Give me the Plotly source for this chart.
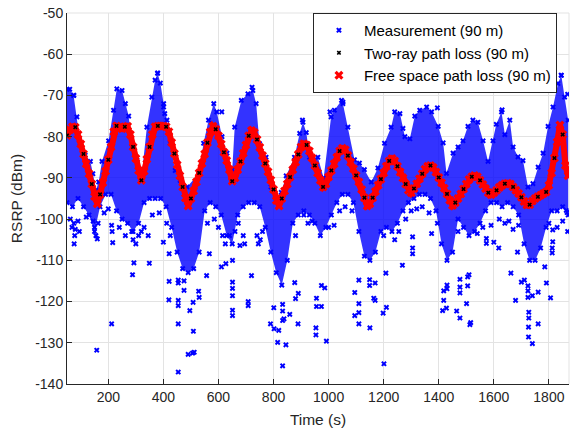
import plotly.graph_objects as go

# free space / two-ray path loss curve (dBm) sampled every 10 s
fsl_t = list(range(50, 1871, 10))
fsl_v = [-79.7, -78.3, -77.6, -77.7, -79.5, -81.8, -84.2, -86.6, -89.0, -91.5,
         -94.5, -96.3, -94.0, -91.2, -88.4, -85.6, -82.5, -78.8, -77.4, -77.7,
         -78.1, -77.6, -77.5, -79.5, -82.5, -85.3, -88.2, -90.6, -88.4, -85.5,
         -82.5, -79.5, -77.6, -77.4, -77.4, -77.4, -77.6, -78.8, -81.4, -84.1,
         -86.8, -89.5, -92.2, -94.9, -96.8, -95.0, -93.2, -91.0, -88.8, -86.5,
         -84.2, -81.5, -78.9, -77.5, -78.2, -79.8, -81.8, -83.8, -85.8, -88.0,
         -90.8, -90.0, -88.0, -86.0, -84.0, -82.0, -79.8, -78.5, -79.0, -80.7,
         -82.6, -84.6, -86.5, -88.5, -90.5, -92.8, -95.5, -96.8, -95.0, -93.2,
         -91.5, -89.8, -88.0, -86.2, -84.3, -82.5, -81.7, -82.0, -83.5, -85.2,
         -87.0, -88.8, -90.6, -92.2, -91.5, -89.8, -88.2, -86.6, -85.0, -83.5,
         -82.8, -83.2, -84.6, -86.2, -87.8, -89.4, -91.0, -92.8, -94.8, -96.8,
         -96.3, -94.8, -93.3, -91.8, -90.3, -88.8, -87.2, -85.9, -85.3, -85.9,
         -87.2, -88.6, -90.0, -91.5, -93.0, -93.6, -92.6, -91.4, -90.2, -89.0,
         -87.9, -87.2, -87.0, -87.5, -88.6, -89.9, -91.2, -92.5, -93.9, -95.4,
         -96.7, -96.0, -95.0, -93.9, -92.7, -91.5, -90.4, -89.7, -89.4, -89.7,
         -90.6, -91.6, -92.6, -93.6, -94.1, -93.6, -93.0, -92.3, -91.8, -91.4,
         -91.3, -91.5, -92.2, -93.0, -93.8, -94.7, -95.7, -96.6, -96.5, -95.6,
         -95.0, -94.6, -94.2, -93.8, -93.4, -91.8, -88.8, -85.2, -81.3, -77.2,
         -79.5, -87.0, -89.5]

# upper edge of the dense measurement cloud
up_t = [50, 60, 74, 86, 98, 116, 135, 144, 155, 165, 177, 201, 219, 231, 250, 262,
        274, 286, 304, 322, 340, 358, 370, 379, 389, 401, 413, 425, 443, 461, 486,
        528, 546, 564, 583, 594, 613, 631, 650, 659, 683, 707, 725, 737, 749, 761,
        773, 791, 810, 828, 846, 876, 895, 907, 919, 931, 961, 982, 1009, 1021,
        1047, 1052, 1070, 1094, 1112, 1130, 1155, 1179, 1203, 1227, 1240, 1259,
        1277, 1295, 1313, 1331, 1356, 1374, 1398, 1416, 1428, 1452, 1470, 1488,
        1506, 1524, 1542, 1561, 1579, 1597, 1609, 1628, 1640, 1658, 1670, 1688,
        1706, 1724, 1742, 1761, 1779, 1797, 1815, 1833, 1845, 1857, 1870]
up_v = [-68.5, -68.5, -70.0, -75.2, -81.6, -84.5, -86.0, -89.0, -93.0, -91.0,
        -86.0, -81.0, -73.6, -68.4, -68.8, -72.0, -75.0, -82.5, -85.7, -89.0,
        -77.7, -70.4, -66.3, -64.6, -67.0, -72.0, -76.0, -81.6, -88.2, -90.6,
        -92.2, -89.0, -81.6, -76.0, -72.0, -74.0, -80.0, -84.0, -88.0, -77.7,
        -71.2, -69.6, -68.8, -72.0, -81.7, -85.0, -85.0, -92.2, -95.0, -93.5,
        -89.5, -85.0, -79.2, -76.5, -79.0, -85.0, -85.0, -90.0, -75.2, -73.6,
        -71.2, -72.0, -77.7, -85.6, -86.4, -88.0, -91.0, -87.6, -81.6, -77.7,
        -74.0, -74.4, -80.0, -80.5, -75.0, -73.6, -72.8, -74.0, -77.5, -81.5,
        -88.9, -84.0, -82.5, -81.0, -77.5, -76.0, -76.5, -81.0, -86.0, -81.0,
        -77.0, -74.0, -79.5, -76.0, -82.5, -84.9, -85.8, -92.2, -91.4, -87.4,
        -84.0, -77.5, -72.8, -67.1, -65.1, -70.4, -76.0]

# lower edge of the dense measurement cloud (every 20 s)
lo_t = list(range(50, 1871, 20))
lo_v = [-96, -97, -95, -97, -99, -103, -97, -94, -94, -98, -100, -101, -103, -101,
        -96, -95, -95, -95, -97, -102, -108, -112, -113, -112, -108, -98, -96, -97,
        -99, -104, -106, -99, -97, -96, -96, -97, -102, -108, -113, -116, -110,
        -101, -99, -98, -99, -101, -104, -102, -99, -96, -94, -94, -96, -103, -109,
        -110, -108, -103, -102, -103, -101, -98, -96, -95, -94, -94, -95, -98,
        -106, -110, -108, -100, -102, -104, -103, -101, -98, -96, -96, -97, -96,
        -97, -99, -106, -110, -110, -107, -102, -98, -98, -97, -99]

# scattered measurement samples outside the dense cloud
pts_t = [158, 212, 216, 288, 293, 349, 400, 421, 421, 420, 454, 454, 454, 454, 454,
         454, 475, 475, 490, 506, 512, 509, 496, 508, 530, 528, 557, 567, 611, 627,
         651, 651, 651, 651, 651, 651, 678, 708, 708, 720, 789, 801, 802, 815, 819,
         833, 845, 833, 833, 833, 838, 859, 889, 880, 890, 877, 954, 954, 956, 956,
         974, 974, 986, 992, 1095, 1110, 1110, 1110, 1095, 1110, 1150, 1164, 1169,
         1169, 1149, 1149, 1198, 1201, 1210, 1208, 1268, 1305, 1305, 1305, 1374,
         1414, 1428, 1418, 1418, 1430, 1430, 1465, 1477, 1477, 1477, 1477, 1501,
         1513, 1516, 1505, 1505, 1510, 1573, 1573, 1600, 1618, 1662, 1679, 1686,
         1700, 1711, 1724, 1724, 1724, 1727, 1727, 1726, 1726, 1740, 1740, 1761,
         1761, 1785, 1791, 1806, 1812, 1812, 1814, 1814, 1863, 1866, 1868,
         62, 68, 75, 78, 76, 80, 90, 95, 120, 145, 150, 155, 160, 163, 185, 200, 212,
         214, 240, 262, 285, 290, 300, 310, 320, 330, 345, 360, 385, 412, 425, 560,
         585, 600, 615, 625, 640, 660, 672, 690, 695, 740, 745, 752, 760, 880, 910,
         925, 940, 1000, 1020, 1040, 1060, 1085, 1200, 1240, 1255, 1280, 1300, 1320,
         1340, 1365, 1395, 1470, 1540, 1560, 1590, 1620, 1640, 1655, 1670, 1690,
         1800, 1830, 1850,
         75, 379, 401, 405, 1052, 1845, 1868, 612, 722, 1270, 1395, 1630, 1005, 905]
pts_v = [-131.8, -125.4, -105.7, -113.5, -110.6, -110.7, -105.6, -108.4, -115.1,
         -119.6, -125.4, -137.1, -121.0, -119.7, -115.5, -114.8, -115.0, -117.3,
         -132.8, -132.5, -132.3, -127.2, -122.2, -120.2, -119.0, -117.5, -113.7,
         -108.4, -111.6, -110.8, -110.0, -115.3, -116.8, -118.6, -122.1, -123.4,
         -106.4, -120.0, -121.0, -113.7, -125.4, -121.5, -126.6, -129.9, -127.0,
         -135.6, -130.5, -124.6, -122.3, -120.7, -124.2, -123.1, -125.4, -119.3,
         -118.0, -115.4, -126.4, -128.1, -121.2, -119.2, -121.2, -116.1, -116.7,
         -129.6, -123.4, -125.4, -122.7, -120.5, -117.8, -114.8, -126.4, -119.2,
         -119.7, -115.5, -116.1, -114.7, -122.8, -135.1, -121.4, -113.1, -111.2,
         -108.4, -107.0, -104.3, -103.5, -122.2, -121.6, -119.7, -117.4, -116.0,
         -116.9, -122.3, -124.0, -117.9, -116.5, -114.6, -120.5, -125.6, -125.1,
         -116.2, -114.0, -113.5, -104.7, -105.9, -105.6, -107.0, -113.1, -119.7,
         -108.0, -115.3, -114.8, -116.2, -117.4, -119.0, -122.6, -124.0, -126.2,
         -128.6, -130.2, -118.6, -125.4, -117.7, -111.6, -115.5, -119.1, -107.0,
         -108.2, -102.6, -105.5, -97.9, -98.4, -103.0,
         -100.0, -102.0, -101.0, -104.0, -106.0, -102.5, -100.5, -103.0, -99.5,
         -100.5, -102.0, -104.0, -104.8, -101.0, -98.5, -97.5, -101.5, -103.0,
         -102.0, -104.0, -103.0, -105.0, -106.0, -104.0, -103.0, -102.0, -104.0,
         -99.0, -98.5, -101.0, -104.0, -101.0, -100.0, -102.0, -104.0, -106.0,
         -104.0, -103.0, -101.0, -104.0, -106.0, -104.0, -106.0, -105.0, -103.0,
         -104.0, -99.0, -101.0, -100.5, -102.0, -101.5, -98.0, -97.0, -98.0,
         -104.0, -105.0, -103.0, -100.0, -98.0, -97.5, -97.0, -98.5, -101.0,
         -103.0, -103.5, -102.0, -101.5, -100.0, -101.0, -100.5, -102.5, -101.5,
         -101.0, -102.0, -100.5,
         -70.0, -64.6, -72.8, -74.4, -71.6, -65.1, -69.7, -74.0, -68.0, -78.0,
         -73.0, -73.5, -74.0, -76.0]

x_ticks = [200, 400, 600, 800, 1000, 1200, 1400, 1600, 1800]
y_ticks = [-140, -130, -120, -110, -100, -90, -80, -70, -60, -50]
y_labels = ["-140", "-130", "-120", "-110", "-100", "-90", "-80", "-70", "-60", "-50"]

blue = "#0000FF"
txt = "#262626"
grid = "#E3E3E3"

# closed outline of the dense cloud: upper edge left->right, lower edge right->left
cloud_t = up_t + lo_t[::-1]
cloud_v = up_v + lo_v[::-1]

fig = go.Figure()

fig.add_trace(go.Scatter(x=cloud_t, y=cloud_v, fill="toself", fillcolor="rgba(0,0,255,0.8)",
                         mode="lines", line=dict(width=0), showlegend=False, hoverinfo="skip"))
fig.add_trace(go.Scatter(x=cloud_t, y=cloud_v, mode="markers",
                         marker=dict(symbol="x", size=5, color=blue),
                         showlegend=False, hoverinfo="skip"))
fig.add_trace(go.Scatter(x=pts_t, y=pts_v, mode="markers", name="Measurement (90 m)",
                         marker=dict(symbol="x", size=5, color=blue), legendrank=1))

# red curve: a thick band under the x markers, as in the original
fig.add_trace(go.Scatter(x=fsl_t, y=fsl_v, mode="lines", line=dict(color="#FF0000", width=6),
                         showlegend=False, hoverinfo="skip"))
fig.add_trace(go.Scatter(x=fsl_t, y=fsl_v, mode="markers", name="Free space path loss (90 m)",
                         marker=dict(symbol="x", size=8, color="#FF0000"), legendrank=3))
fig.add_trace(go.Scatter(x=fsl_t[::3], y=fsl_v[::3], mode="markers", name="Two-ray path loss (90 m)",
                         marker=dict(symbol="x", size=4, color="#000000"), legendrank=2))

fig.update_layout(
    width=574, height=435,
    margin=dict(l=67, r=5, t=13, b=51),
    paper_bgcolor="white", plot_bgcolor="white",
    font=dict(family="Liberation Sans, Arial, sans-serif", size=14, color=txt),
    legend=dict(x=0.976, y=1.0, xanchor="right", yanchor="top",
                bgcolor="white", bordercolor="#262626", borderwidth=1,
                font=dict(size=15, color="#000000"), itemwidth=40,
                tracegroupgap=0),
)
fig.update_xaxes(range=[50, 1873], tickvals=x_ticks, ticks="inside", ticklen=5,
                 tickcolor=txt, showline=True, linecolor=txt, linewidth=1,
                 showgrid=True, gridcolor=grid, zeroline=False,
                 title=dict(text="Time (s)", font=dict(size=15.5), standoff=10))
fig.update_yaxes(range=[-140, -50], tickvals=y_ticks, ticktext=y_labels, ticks="inside",
                 ticklen=5, tickcolor=txt, showline=True, linecolor=txt, linewidth=1,
                 showgrid=True, gridcolor=grid, zeroline=False,
                 title=dict(text="RSRP (dBm)", font=dict(size=15.5), standoff=8))
# light frame on top and right
fig.add_shape(type="line", xref="paper", yref="paper", x0=0, x1=1, y0=1, y1=1,
              line=dict(color=grid, width=1), layer="below")
fig.add_shape(type="line", xref="paper", yref="paper", x0=1, x1=1, y0=0, y1=1,
              line=dict(color=grid, width=1), layer="below")

fig.write_html("out.html", config={"displayModeBar": False},
               post_script="document.body.style.margin='0';")
